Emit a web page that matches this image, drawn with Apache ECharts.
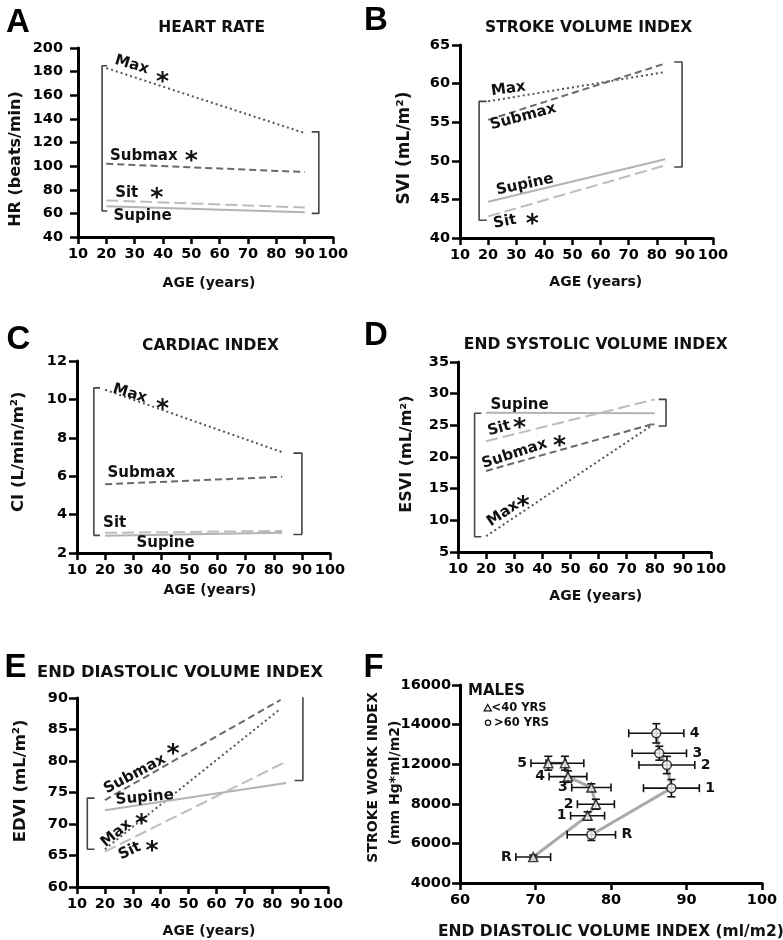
<!DOCTYPE html>
<html><head><meta charset="utf-8">
<script src="https://cdn.jsdelivr.net/npm/echarts@6/dist/echarts.min.js"></script>
<style>html,body{margin:0;padding:0;background:#fff}#c{width:783px;height:940px}</style>
</head><body><div id="c"></div>
<script>
// ---------------- DATA ----------------
// Panel A: heart rate vs age
const AGE_A = [20, 90];
const HR_MAX = [183, 128];
const HR_SUBMAX = [102, 95];
const HR_SIT = [71, 65];
const HR_SUPINE = [66, 61];
// Panel B: stroke volume index
const AGE_B = [20, 83];
const SVI_MAX = [57.7, 61.5];
const SVI_SUBMAX = [55.3, 62.6];
const SVI_SUPINE = [44.7, 50.2];
const SVI_SIT = [42.8, 49.4];
// Panel C: cardiac index
const AGE_C = [20, 83];
const CI_MAX = [10.5, 7.25];
const CI_SUBMAX = [5.58, 5.97];
const CI_SIT = [3.05, 3.15];
const CI_SUPINE = [2.9, 3.05];
// Panel D: end systolic volume index
const AGE_D = [20, 80];
const ESVI_SUPINE = [27.0, 26.9];
const ESVI_SIT = [22.5, 29.1];
const ESVI_SUBMAX = [17.8, 25.3];
const ESVI_MAX = [7.5, 25.3];
// Panel E: end diastolic volume index
const AGE_E_EXERCISE = [20, 83];
const AGE_E_REST = [20, 85];
const EDVI_SUBMAX = [73.8, 89.7];
const EDVI_MAX = [66.0, 88.3];
const EDVI_SUPINE = [72.2, 76.5];
const EDVI_SIT = [65.6, 79.9];
// Brackets: [vertical x, arm end x, top value, bottom value]
const BRACKETS_A = [[18.5, 20.3, 185, 62], [95, 92.5, 129, 60]];
const BRACKETS_B = [[16.8, 19.5, 57.7, 42.3], [89, 86.2, 62.8, 49.2]];
const BRACKETS_C = [[16, 18.2, 10.6, 2.92], [90, 87, 7.2, 2.96]];
const BRACKETS_D = [[15.9, 18.3, 26.9, 7.4], [84, 81.4, 29.1, 24.9]];
const BRACKETS_E = [[13.7, 16.3, 74.1, 66.0], [91, 88, 90.4, 76.9]];
// Panel F: stroke work index vs EDVI (males)
const F_STAGES_YOUNG = ['R', '1', '2', '3', '4', '', '5'];
const F_EDVI_YOUNG = [69.7, 76.9, 78.0, 77.4, 74.3, 73.9, 71.7];
const F_EDVI_YOUNG_ERR = [2.3, 2.25, 2.45, 2.6, 2.5, 2.5, 2.3];
const F_SWI_YOUNG = [5310, 7394, 7980, 8820, 9374, 10050, 10050];
const F_SWI_YOUNG_ERR = [100, 200, 250, 190, 290, 350, 350];
const F_STAGES_OLD = ['R', '1', '2', '3', '4'];
const F_EDVI_OLD = [77.4, 88.0, 87.4, 86.4, 86.0];
const F_EDVI_OLD_ERR = [3.2, 3.7, 3.7, 3.6, 3.65];
const F_SWI_OLD = [6436, 8790, 9960, 10554, 11560];
const F_SWI_OLD_ERR = [287, 437, 437, 350, 487];
const F_Y_TICK_LABELS = ['4000', '6000', '8000', '12000', '14000', '16000'];

// ---------------- STYLE / LAYOUT ----------------
const FONT = '"DejaVu Sans", Arial, sans-serif';
const TXT = '#111';
const ST = {
  max: {color: '#555', width: 2, type: [2, 3]},
  submax: {color: '#6a6a6a', width: 2, type: [7, 4]},
  sit: {color: '#bdbdbd', width: 2, type: [12, 5]},
  supine: {color: '#b3b3b3', width: 2, type: 'solid'}
};
const grids = [
  {left: 78, top: 48, width: 255, height: 189},
  {left: 460, top: 45, width: 253, height: 193},
  {left: 77, top: 361, width: 253, height: 192},
  {left: 458, top: 362, width: 253, height: 190},
  {left: 77, top: 698, width: 251, height: 189},
  {left: 460, top: 685, width: 302, height: 198}
];
const yRanges = [[40, 200, 20], [40, 65, 5], [2, 12, 2], [5, 35, 5], [60, 90, 5], [4000, 14000, 2000]];
const yLabelMargin = [15, 10, 10, 9, 9, 9];

function xAxisFor(i) {
  const f = i === 5;
  return {
    gridIndex: i, type: 'value', min: f ? 60 : 10, max: 100, interval: 10,
    axisLine: {onZero: false, lineStyle: {color: '#000', width: 3}},
    axisTick: {length: 7, lineStyle: {color: '#000', width: 2.5}},
    axisLabel: {color: '#000', fontFamily: FONT, fontWeight: 'bold', fontSize: 14.5, margin: 10,
      showMinLabel: true, showMaxLabel: true},
    splitLine: {show: false}
  };
}
function yAxisFor(i) {
  const r = yRanges[i];
  const ax = {
    gridIndex: i, type: 'value', min: r[0], max: r[1], interval: r[2],
    axisLine: {onZero: false, lineStyle: {color: '#000', width: 3}},
    axisTick: {length: 8, lineStyle: {color: '#000', width: 2.5}},
    axisLabel: {color: '#000', fontFamily: FONT, fontWeight: 'bold', fontSize: 14.5, margin: yLabelMargin[i],
      showMinLabel: true, showMaxLabel: true},
    splitLine: {show: false}
  };
  if (i === 5) ax.axisLabel.formatter = v => F_Y_TICK_LABELS[Math.round((v - 4000) / 2000)];
  return ax;
}
function trend(gi, ages, vals, st) {
  return {type: 'line', xAxisIndex: gi, yAxisIndex: gi, silent: true, symbol: 'none', z: 3,
    data: ages.map((a, k) => [a, vals[k]]),
    lineStyle: {color: st.color, width: st.width, type: st.type}};
}
function brackets(gi, list) {
  return list.map(b => ({type: 'line', xAxisIndex: gi, yAxisIndex: gi, silent: true, symbol: 'none', z: 2,
    data: [[b[1], b[2]], [b[0], b[2]], [b[0], b[3]], [b[1], b[3]]],
    lineStyle: {color: '#444', width: 1.6}}));
}
// annotation labels anchored in data space: [text, x, y, rotate(deg), isStar]
const ANNOT = [
  [['Max', 29, 185.8, -17], ['*', 39.8, 176, 0, 1], ['Submax', 33.2, 108.9, 0], ['*', 50, 108.7, 0, 1],
   ['Sit', 27.2, 77.1, 0], ['*', 37.8, 77.6, 0, 1], ['Supine', 32.8, 57.9, 0]],
  [['Max', 27.2, 59.3, 8], ['Submax', 32.5, 55.7, 15], ['Supine', 33.1, 46.9, 12],
   ['Sit', 26, 42.1, 11], ['*', 35.7, 42.5, 0, 1]],
  [['Max', 28.8, 10.3, -17], ['*', 40.4, 9.8, 0, 1], ['Submax', 32.9, 6.17, 0],
   ['Sit', 23.4, 3.57, 0], ['Supine', 41.5, 2.52, 0]],
  [['Supine', 31.9, 28.2, 0], ['Sit', 24.6, 24.5, 15], ['*', 31.9, 25.4, 0, 1],
   ['Submax', 30.1, 20.5, 18], ['*', 46.1, 22.6, 0, 1], ['Max', 26, 11.05, 34], ['*', 33.1, 13.2, 0, 1]],
  [['Submax', 30.7, 77.9, 28], ['*', 44.4, 82.0, 0, 1], ['Supine', 34.3, 74.2, 5],
   ['Max', 24.1, 68.5, 40], ['*', 33.1, 70.9, 0, 1], ['Sit', 28.9, 65.7, 25], ['*', 36.9, 66.6, 0, 1]]
];

function errorBars(xs, xe, ys, ye, labels, side) {
  return {type: 'custom', xAxisIndex: 5, yAxisIndex: 5, silent: true, z: 6,
    data: xs.map((x, k) => [x, ys[k], xe[k], ye[k], k]),
    renderItem(params, api) {
      const x = api.value(0), y = api.value(1), ex = api.value(2), ey = api.value(3), k = api.value(4);
      const c = api.coord([x, y]), l = api.coord([x - ex, y]), r = api.coord([x + ex, y]);
      const t = api.coord([x, y + ey]), b = api.coord([x, y - ey]);
      const s = {stroke: '#111', lineWidth: 1.6};
      const cap = 4;
      const ch = [
        {type: 'line', shape: {x1: l[0], y1: c[1], x2: r[0], y2: c[1]}, style: s},
        {type: 'line', shape: {x1: l[0], y1: c[1] - cap, x2: l[0], y2: c[1] + cap}, style: s},
        {type: 'line', shape: {x1: r[0], y1: c[1] - cap, x2: r[0], y2: c[1] + cap}, style: s}
      ];
      if (ey > 0) {
        ch.push({type: 'line', shape: {x1: c[0], y1: t[1], x2: c[0], y2: b[1]}, style: s});
        ch.push({type: 'line', shape: {x1: c[0] - cap, y1: t[1], x2: c[0] + cap, y2: t[1]}, style: s});
        ch.push({type: 'line', shape: {x1: c[0] - cap, y1: b[1], x2: c[0] + cap, y2: b[1]}, style: s});
      }
      const lab = labels[k];
      if (lab) ch.push({type: 'text', style: {text: lab, x: side < 0 ? l[0] - 4 : r[0] + 6, y: c[1],
        align: side < 0 ? 'right' : 'left', verticalAlign: 'middle',
        font: 'bold 14px ' + FONT, fill: TXT}});
      return {type: 'group', children: ch};
    }};
}

// graphic text helper
function gt(text, x, y, size, opts) {
  opts = opts || {};
  return {type: 'text', x: x, y: y, rotation: opts.rot || 0, silent: true, z: 20,
    style: {text: text, font: 'bold ' + size + 'px ' + (opts.family || FONT), fill: opts.fill || TXT,
      align: opts.align || 'center', verticalAlign: 'middle', textAlign: opts.align || 'center',
      textVerticalAlign: 'middle'}};
}
const LETTER = '"Liberation Sans", Arial, sans-serif';
const graphics = [
  gt('A', 18, 23, 33, {family: LETTER, fill: '#000'}),
  gt('B', 376, 21, 33, {family: LETTER, fill: '#000'}),
  gt('C', 18.5, 340, 33, {family: LETTER, fill: '#000'}),
  gt('D', 376, 336, 33, {family: LETTER, fill: '#000'}),
  gt('E', 15.5, 668, 33, {family: LETTER, fill: '#000'}),
  gt('F', 373.5, 668, 33, {family: LETTER, fill: '#000'}),
  gt('HEART RATE', 211.7, 28, 15.5),
  gt('STROKE VOLUME INDEX', 588.7, 28, 15.5),
  gt('CARDIAC INDEX', 210.5, 346, 15.5),
  gt('END SYSTOLIC VOLUME INDEX', 595.8, 345, 15.5),
  gt('END DIASTOLIC VOLUME INDEX', 180, 672.5, 16.3),
  gt('AGE (years)', 209, 283, 14),
  gt('AGE (years)', 595.8, 282, 14),
  gt('AGE (years)', 210, 590, 14),
  gt('AGE (years)', 595.8, 596.7, 14),
  gt('AGE (years)', 209, 931.7, 14),
  gt('HR (beats/min)', 15.7, 159, 16, {rot: Math.PI / 2}),
  gt('SVI (mL/m²)', 405, 148, 17, {rot: Math.PI / 2}),
  gt('CI (L/min/m²)', 19, 451.7, 16.5, {rot: Math.PI / 2}),
  gt('ESVI (mL/m²)', 406.7, 454, 16, {rot: Math.PI / 2}),
  gt('EDVI (mL/m²)', 21, 780.8, 16.5, {rot: Math.PI / 2}),
  gt('STROKE WORK INDEX', 373, 777.5, 14, {rot: Math.PI / 2}),
  gt('(mm Hg*ml/m2)', 395, 783, 14, {rot: Math.PI / 2}),
  gt('END DIASTOLIC VOLUME INDEX (ml/m2)', 438, 931.7, 15.5, {align: 'left'}),
  gt('MALES', 468, 691, 15, {align: 'left'}),
  gt('<40 YRS', 491.5, 708, 11.5, {align: 'left'}),
  gt('>60 YRS', 494, 722.7, 11.5, {align: 'left'}),
  {type: 'polygon', silent: true, z: 20, shape: {points: [[487.7, 704.5], [484.2, 710.8], [491.2, 710.8]]},
    style: {fill: '#fff', stroke: '#111', lineWidth: 1.3}},
  {type: 'circle', silent: true, z: 20, shape: {cx: 488, cy: 722.7, r: 2.6},
    style: {fill: '#fff', stroke: '#111', lineWidth: 1.3}}
];

const series = [].concat(
  trend(0, AGE_A, HR_MAX, ST.max), trend(0, AGE_A, HR_SUBMAX, ST.submax),
  trend(0, AGE_A, HR_SIT, ST.sit), trend(0, AGE_A, HR_SUPINE, ST.supine),
  brackets(0, BRACKETS_A),
  trend(1, AGE_B, SVI_MAX, ST.max), trend(1, AGE_B, SVI_SUBMAX, ST.submax),
  trend(1, AGE_B, SVI_SUPINE, ST.supine), trend(1, AGE_B, SVI_SIT, ST.sit),
  brackets(1, BRACKETS_B),
  trend(2, AGE_C, CI_MAX, ST.max), trend(2, AGE_C, CI_SUBMAX, ST.submax),
  trend(2, AGE_C, CI_SIT, ST.sit), trend(2, AGE_C, CI_SUPINE, ST.supine),
  brackets(2, BRACKETS_C),
  trend(3, AGE_D, ESVI_SUPINE, ST.supine), trend(3, AGE_D, ESVI_SIT, ST.sit),
  trend(3, AGE_D, ESVI_SUBMAX, ST.submax), trend(3, AGE_D, ESVI_MAX, ST.max),
  brackets(3, BRACKETS_D),
  trend(4, AGE_E_EXERCISE, EDVI_SUBMAX, ST.submax), trend(4, AGE_E_EXERCISE, EDVI_MAX, ST.max),
  trend(4, AGE_E_REST, EDVI_SUPINE, ST.supine), trend(4, AGE_E_REST, EDVI_SIT, ST.sit),
  brackets(4, BRACKETS_E),
  {type: 'line', xAxisIndex: 5, yAxisIndex: 5, silent: true, symbol: 'none', z: 4,
    data: F_EDVI_YOUNG.map((x, k) => [x, F_SWI_YOUNG[k]]), lineStyle: {color: '#aaa', width: 3}},
  {type: 'line', xAxisIndex: 5, yAxisIndex: 5, silent: true, symbol: 'none', z: 4,
    data: F_EDVI_OLD.map((x, k) => [x, F_SWI_OLD[k]]), lineStyle: {color: '#aaa', width: 3}},
  errorBars(F_EDVI_YOUNG, F_EDVI_YOUNG_ERR, F_SWI_YOUNG, F_SWI_YOUNG_ERR, F_STAGES_YOUNG, -1),
  errorBars(F_EDVI_OLD, F_EDVI_OLD_ERR, F_SWI_OLD, F_SWI_OLD_ERR, F_STAGES_OLD, 1),
  {type: 'scatter', xAxisIndex: 5, yAxisIndex: 5, silent: true, symbol: 'triangle', symbolSize: 9, z: 8,
    data: F_EDVI_YOUNG.map((x, k) => [x, F_SWI_YOUNG[k]]),
    itemStyle: {color: '#fff', borderColor: '#111', borderWidth: 1.5}},
  {type: 'scatter', xAxisIndex: 5, yAxisIndex: 5, silent: true, symbol: 'circle', symbolSize: 9, z: 8,
    data: F_EDVI_OLD.map((x, k) => [x, F_SWI_OLD[k]]),
    itemStyle: {color: '#fff', borderColor: '#111', borderWidth: 1.5}}
);

const chart = echarts.init(document.getElementById('c'), null, {renderer: 'canvas'});
chart.setOption({
  backgroundColor: '#fff',
  animation: false,
  grid: grids,
  xAxis: grids.map((g, i) => xAxisFor(i)),
  yAxis: grids.map((g, i) => yAxisFor(i)),
  series: series
});
// place line annotations through each panel's axes
const annotGraphics = [];
ANNOT.forEach((items, gi) => {
  items.forEach(t => {
    const p = chart.convertToPixel({xAxisIndex: gi, yAxisIndex: gi}, [t[1], t[2]]);
    const star = !!t[4];
    annotGraphics.push(gt(t[0], p[0], p[1] + (star ? 6 : 0), star ? 25 : 15,
      {rot: (t[3] || 0) * Math.PI / 180, fill: '#111'}));
  });
});
chart.setOption({graphic: graphics.concat(annotGraphics)});
</script></body></html>
